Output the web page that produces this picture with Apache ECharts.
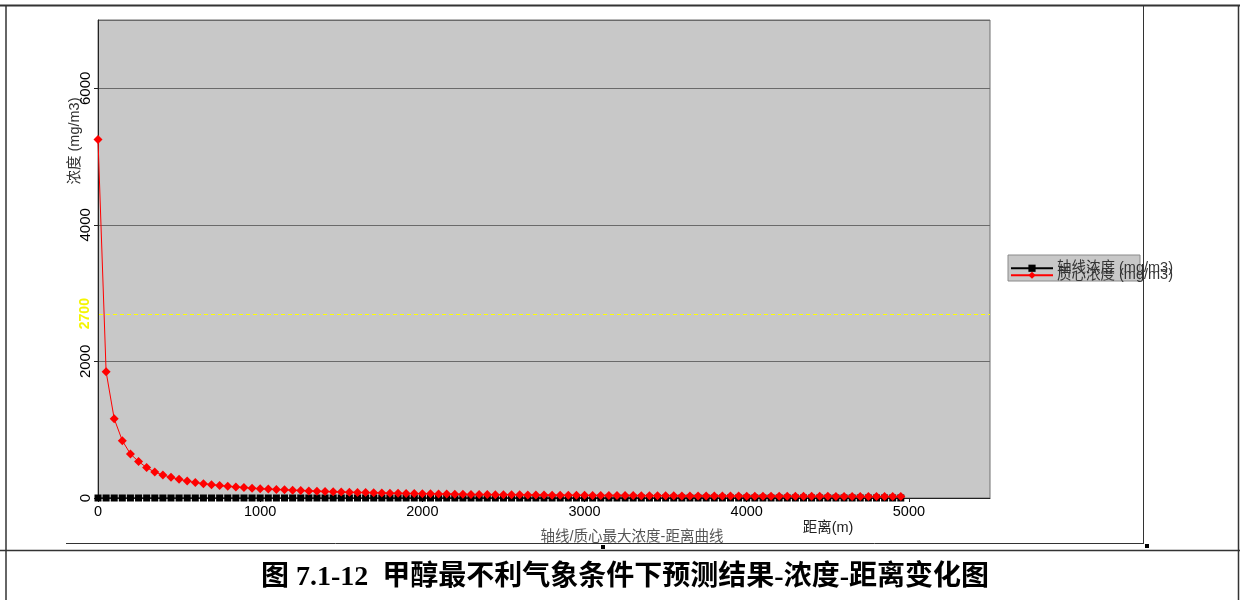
<!DOCTYPE html>
<html>
<head>
<meta charset="utf-8">
<script src="https://cdn.jsdelivr.net/npm/echarts@6/dist/echarts.min.js"></script>
<style>
html,body{margin:0;padding:0;background:#fff;}
#c{width:1240px;height:600px;}
</style>
</head>
<body>
<div id="c"></div>
<script>
// ---- data ----
const distances = [0,50,100,150,200,250,300,350,400,450,500,550,600,650,700,750,800,850,900,950,
1000,1050,1100,1150,1200,1250,1300,1350,1400,1450,1500,1550,1600,1650,1700,1750,1800,1850,1900,1950,
2000,2050,2100,2150,2200,2250,2300,2350,2400,2450,2500,2550,2600,2650,2700,2750,2800,2850,2900,2950,
3000,3050,3100,3150,3200,3250,3300,3350,3400,3450,3500,3550,3600,3650,3700,3750,3800,3850,3900,3950,
4000,4050,4100,4150,4200,4250,4300,4350,4400,4450,4500,4550,4600,4650,4700,4750,4800,4850,4900,4950];
const axisConc = [0,0,0,0,0,0,0,0,0,0,0,0,0,0,0,0,0,0,0,0,
0,0,0,0,0,0,0,0,0,0,0,0,0,0,0,0,0,0,0,0,
0,0,0,0,0,0,0,0,0,0,0,0,0,0,0,0,0,0,0,0,
0,0,0,0,0,0,0,0,0,0,0,0,0,0,0,0,0,0,0,0,
0,0,0,0,0,0,0,0,0,0,0,0,0,0,0,0,0,0,0,0];
const centroidConc = [5250,1850,1160,840,645,535,445,380,338,303,273,249,226,210,195,182,171,161,152,144,
137,131,125,119,114,109,104,100,96,92,88,85,82,79,76,73,71,69,67,65,
63,61,59,57,56,54,53,51,50,49,48,47,46,45,44,43,42,41,40,40,
39,38,37,37,36,35,35,34,33,33,32,32,31,31,30,30,29,29,28,28,
27,27,27,26,26,25,25,25,24,24,24,23,23,23,22,22,22,21,21,21];
const seriesNames = ['轴线浓度 (mg/m3)', '质心浓度 (mg/m3)'];
const xTickInterval = 1000;
const yTickInterval = 2000;
const thresholdValue = 2700;
const yAxisTitle = '浓度 (mg/m3)';
const xAxisTitle = '距离(m)';
const chartSubtitle = '轴线/质心最大浓度-距离曲线';
const caption = '图 7.1-12  甲醇最不利气象条件下预测结果-浓度-距离变化图';

const axisData = distances.map((d, i) => [d, axisConc[i]]);
const centroidData = distances.map((d, i) => [d, centroidConc[i]]);

const chart = echarts.init(document.getElementById('c'), null, {renderer: 'canvas'});
const baseFont = '"Liberation Sans", Arial, "Noto Sans CJK SC", sans-serif';
const plain = v => String(v);

const option = {
  animation: false,
  backgroundColor: '#ffffff',
  textStyle: {fontFamily: baseFont},
  grid: {
    left: 98, top: 20, width: 892, height: 478,
    show: true, backgroundColor: '#c8c8c8', borderColor: '#707070', borderWidth: 1
  },
  legend: [
    {
      data: [seriesNames[0]], left: 1010, top: 261, orient: 'vertical',
      itemWidth: 42, itemHeight: 9, itemGap: 0, padding: 0,
      textStyle: {fontSize: 14.5, color: '#333', fontFamily: baseFont, padding: [0,0,0,-1]},
      selectedMode: false
    },
    {
      data: [seriesNames[1]], left: 1010, top: 268, orient: 'vertical',
      itemWidth: 42, itemHeight: 9, itemGap: 0, padding: 0,
      textStyle: {fontSize: 14.5, color: '#333', fontFamily: baseFont, padding: [0,0,0,-1]},
      selectedMode: false
    }
  ],
  xAxis: {
    type: 'value', min: 0, max: 5500, interval: xTickInterval,
    axisLine: {show: true, lineStyle: {color: '#222', width: 1}},
    axisTick: {show: true, length: 4, lineStyle: {color: '#222'}},
    axisLabel: {color: '#000', fontSize: 14.5, margin: 7, showMaxLabel: false, fontFamily: baseFont, formatter: plain},
    splitLine: {show: false}
  },
  yAxis: {
    type: 'value', min: 0, max: 7000, interval: yTickInterval,
    axisLine: {show: true, lineStyle: {color: '#222', width: 1}},
    axisTick: {show: true, length: 4, lineStyle: {color: '#222'}},
    axisLabel: {color: '#000', fontSize: 15, rotate: 90, margin: 5, showMaxLabel: false, fontFamily: baseFont, formatter: plain},
    splitLine: {show: true, lineStyle: {color: '#6a6a6a', width: 1}}
  },
  series: [
    {
      name: seriesNames[0], type: 'line', data: axisData,
      symbol: 'rect', symbolSize: 7, showAllSymbol: true,
      itemStyle: {color: '#000'}, lineStyle: {color: '#000', width: 1},
      z: 2
    },
    {
      name: seriesNames[1], type: 'line', data: centroidData,
      symbol: 'diamond', symbolSize: 9, showAllSymbol: true,
      itemStyle: {color: '#ff0000'}, lineStyle: {color: '#ff0000', width: 1},
      z: 3
    }
  ]
};
chart.setOption(option);

const thrL = chart.convertToPixel({gridIndex: 0}, [0, thresholdValue]);
const thrR = chart.convertToPixel({gridIndex: 0}, [5500, thresholdValue]);
const thrY = Math.round(thrL[1]) + 0.5;
const frameColor = '#333';
chart.setOption({
  graphic: [
    // legend box
    {type: 'rect', shape: {x: 1008, y: 255, width: 132, height: 26}, style: {fill: '#c8c8c8', stroke: '#8a8a8a', lineWidth: 1}, z: -1, zlevel: 0},
    // threshold line (dashed yellow) and label
    {type: 'line', shape: {x1: thrL[0] + 1, y1: thrY, x2: thrR[0], y2: thrY},
      style: {stroke: '#ffff00', lineWidth: 1, lineDash: [4, 3]}, z: 1},
    {type: 'text', x: thrL[0] - 13, y: thrL[1], rotation: Math.PI / 2,
      style: {text: String(thresholdValue), fill: '#f5f500', font: 'bold 14px ' + baseFont, textAlign: 'center', textVerticalAlign: 'middle'}},
    // y axis title
    {type: 'text', x: 75, y: 141, rotation: Math.PI / 2,
      style: {text: yAxisTitle, fill: '#333', font: '14.5px ' + baseFont, textAlign: 'center', textVerticalAlign: 'middle'}},
    // x axis title
    {type: 'text', x: 828, y: 528,
      style: {text: xAxisTitle, fill: '#222', font: '14.5px ' + baseFont, textAlign: 'center', textVerticalAlign: 'middle'}},
    // subtitle
    {type: 'text', x: 632, y: 537,
      style: {text: chartSubtitle, fill: '#555', font: '14.5px ' + baseFont, textAlign: 'center', textVerticalAlign: 'middle'}},
    // caption
    {type: 'text', x: 625, y: 578,
      style: {text: caption, fill: '#000', font: 'bold 28px "Liberation Serif", "Noto Sans CJK SC", serif', textAlign: 'center', textVerticalAlign: 'middle'}},
    // table frame
    {type: 'line', shape: {x1: 0, y1: 5.5, x2: 1240, y2: 5.5}, style: {stroke: frameColor, lineWidth: 2}, z: 100},
    {type: 'line', shape: {x1: 6, y1: 5, x2: 6, y2: 600}, style: {stroke: frameColor, lineWidth: 1.5}, z: 100},
    {type: 'line', shape: {x1: 1238.5, y1: 5, x2: 1238.5, y2: 600}, style: {stroke: frameColor, lineWidth: 1.5}, z: 100},
    {type: 'line', shape: {x1: 0, y1: 550.5, x2: 1240, y2: 550.5}, style: {stroke: frameColor, lineWidth: 1.5}, z: 100},
    // chart object frame
    {type: 'line', shape: {x1: 1143.5, y1: 5, x2: 1143.5, y2: 543}, style: {stroke: frameColor, lineWidth: 1}, z: 100},
    {type: 'line', shape: {x1: 66, y1: 543.5, x2: 1144, y2: 543.5}, style: {stroke: frameColor, lineWidth: 1}, z: 100},
    {type: 'rect', shape: {x: 601, y: 545, width: 4, height: 4}, style: {fill: '#000'}, z: 100},
    {type: 'rect', shape: {x: 1145, y: 544, width: 4, height: 4}, style: {fill: '#000'}, z: 100}
  ]
});
</script>
</body>
</html>
